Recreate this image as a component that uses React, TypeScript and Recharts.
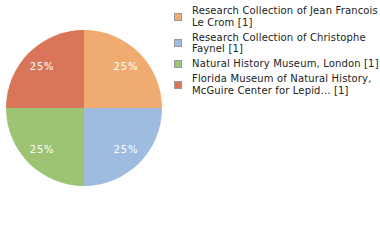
import React from "react";
import { PieChart, Pie, Cell, Legend } from "recharts";

const names = [
  "Research Collection of Jean Francois Le Crom [1]",
  "Research Collection of Christophe Faynel [1]",
  "Natural History Museum, London [1]",
  "Florida Museum of Natural History, McGuire Center for Lepid... [1]",
];
const legendLines = [
  ["Research Collection of Jean Francois", "Le Crom [1]"],
  ["Research Collection of Christophe", "Faynel [1]"],
  ["Natural History Museum, London [1]"],
  ["Florida Museum of Natural History,", "McGuire Center for Lepid... [1]"],
];
const values = [1, 1, 1, 1];
const COLORS = ["#F0AC70", "#9EBBE0", "#9DC473", "#D97559"];

const data = names.map((name, i) => ({ name, value: values[i] }));

const RAD = Math.PI / 180;

function renderLabel(props: any) {
  const { cx, cy, midAngle, outerRadius, percent } = props;
  const r = outerRadius * 0.76;
  const x = cx + r * Math.cos(-midAngle * RAD);
  const y = cy + r * Math.sin(-midAngle * RAD);
  return (
    <text
      x={x}
      y={y}
      fill="#fff"
      fontSize={10}
      letterSpacing={0.8}
      textAnchor="middle"
      dominantBaseline="central"
      fontFamily="DejaVu Sans"
    >
      {`${Math.round(percent * 100)}%`}
    </text>
  );
}

function LegendBox() {
  return (
    <div style={{ fontFamily: "DejaVu Sans", fontSize: 10, color: "#222", lineHeight: "11.5px", letterSpacing: 0.15 }}>
      {legendLines.map((lines, i) => (
        <div key={i} style={{ display: "flex", alignItems: "center", marginBottom: 3.5 }}>
          <div style={{ width: 6, height: 6, background: COLORS[i], border: "1px solid #999", marginRight: 10, flexShrink: 0 }} />
          <div>
            {lines.map((l, j) => (
              <div key={j} style={{ whiteSpace: "nowrap" }}>{l}</div>
            ))}
          </div>
        </div>
      ))}
    </div>
  );
}

export default function App() {
  return (
    <div style={{ position: "absolute", left: 0, top: 0, width: 380, height: 240, background: "#fff" }}>
      <PieChart width={380} height={240} margin={{ top: 0, right: 0, bottom: 0, left: 0 }}>
        <Pie
          data={data}
          dataKey="value"
          cx={84}
          cy={108}
          outerRadius={78}
          startAngle={90}
          endAngle={-270}
          stroke="none"
          label={renderLabel}
          labelLine={false}
          isAnimationActive={false}
        >
          {data.map((_, i) => (
            <Cell key={i} fill={COLORS[i]} />
          ))}
        </Pie>
        <Legend
          layout="vertical"
          align="right"
          verticalAlign="top"
          content={() => <LegendBox />}
          wrapperStyle={{ left: 174, top: 5, width: 206 }}
        />
      </PieChart>
    </div>
  );
}
